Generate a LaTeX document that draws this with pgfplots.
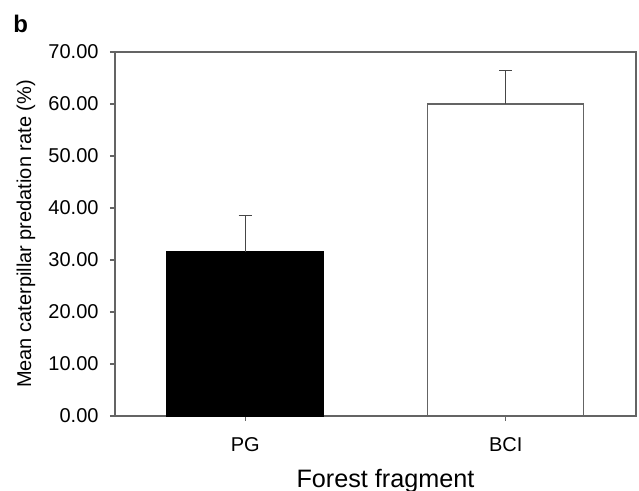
\documentclass[border=0pt]{standalone}
\usepackage{fontspec}
\setmainfont{Liberation Sans}
\usepackage{pgfplots}
\pgfplotsset{compat=1.18}
\definecolor{framegray}{RGB}{100,100,100}
\definecolor{errgray}{RGB}{70,70,70}

\begin{document}
\begin{tikzpicture}
\useasboundingbox (-57.5pt,-37.5pt) rectangle (262pt,208pt);
\begin{axis}[
  at={(0,0)},anchor=south west,
  width=260.5pt,height=182pt,scale only axis,
  xmin=-0.5,xmax=1.5,ymin=0,ymax=70,
  xtick={0,1},xticklabels={PG,BCI},
  ytick={0,10,...,70},
  axis line style={framegray,line width=0.7pt},
  tick style={framegray,line width=0.6pt},
  tick align=outside,major tick length=2.5pt,
  xtick pos=bottom,ytick pos=left,
  font=\fontsize{10}{12}\selectfont,
  tick label style={font=\fontsize{10}{12}\selectfont},
  /pgf/number format/assume math mode=true,
  yticklabel style={/pgf/number format/.cd,fixed,fixed zerofill,precision=2,/tikz/.cd,xshift=-2.2pt},
  xticklabel style={yshift=-4.7pt},
  xlabel={Forest fragment},
  ylabel={Mean caterpillar predation rate (\%)},
  xlabel style={at={(axis description cs:0.5,0)},anchor=base,yshift=-36pt,xshift=5pt,font=\fontsize{12.6}{14}\selectfont},
  ylabel style={at={([xshift=-44.5pt]axis description cs:0,0.5)},anchor=center,font=\fontsize{10}{12}\selectfont},
  clip=false,
]
\addplot[ybar,bar width=0.6,fill=black,draw=black,line width=0.6pt,
  error bars/.cd,y dir=plus,y explicit,
  error bar style={errgray,line width=0.6pt},
  error mark options={rotate=90,mark size=3.25pt,errgray,line width=0.6pt}]
  coordinates {(0,31.6) +- (0,7.0)};
\addplot[ybar,bar width=0.6,fill=white,draw=framegray,line width=0.6pt,
  error bars/.cd,y dir=plus,y explicit,
  error bar style={errgray,line width=0.6pt},
  error mark options={rotate=90,mark size=3.25pt,errgray,line width=0.6pt}]
  coordinates {(1,60.0) +- (0,6.4)};
\node[anchor=base west,inner sep=0pt,font=\bfseries\fontsize{12}{14}\selectfont]
  at (axis description cs:0,0) [xshift=-51pt,yshift=191.5pt] {b};
\end{axis}
\end{tikzpicture}
\end{document}
